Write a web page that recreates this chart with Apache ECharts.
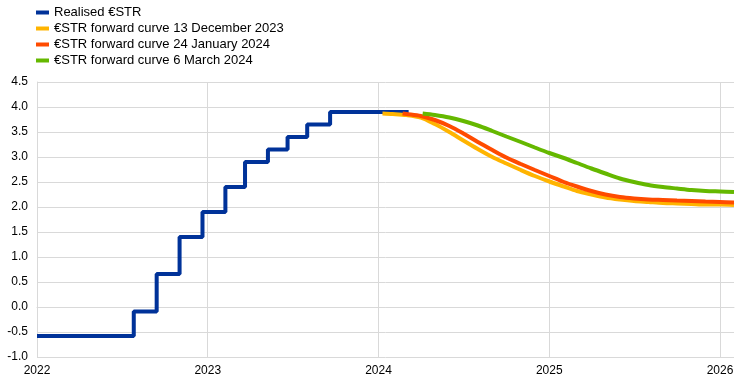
<!DOCTYPE html>
<html>
<head>
<meta charset="utf-8">
<script src="https://cdn.jsdelivr.net/npm/echarts@6/dist/echarts.min.js"></script>
<style>html,body{margin:0;padding:0;background:#fff;}#c{width:744px;height:383px;}</style>
</head>
<body>
<div id="c"></div>
<script>
// Realised €STR (step changes)
const realisedDates = ['2022-01-01','2022-07-27','2022-09-14','2022-11-02','2022-12-21','2023-02-08','2023-03-22','2023-05-10','2023-06-21','2023-08-02','2023-09-20','2024-03-06'];
const realisedValues = [-0.58,-0.09,0.66,1.40,1.90,2.40,2.90,3.15,3.40,3.65,3.90,3.90];

// €STR forward curve 13 December 2023
const dec13Dates = ['2024-01-10','2024-02-01','2024-03-01','2024-04-01','2024-05-01','2024-06-01','2024-07-01','2024-08-01','2024-09-01','2024-10-01','2024-11-01','2024-12-01','2025-01-01','2025-02-01','2025-03-01','2025-04-01','2025-05-01','2025-06-01','2025-07-01','2025-08-01','2025-09-01','2025-10-01','2025-11-01','2025-12-01','2026-01-01','2026-01-31'];
const dec13Values = [3.87,3.86,3.84,3.79,3.66,3.50,3.33,3.16,3.00,2.87,2.74,2.62,2.51,2.41,2.32,2.25,2.19,2.15,2.12,2.10,2.08,2.07,2.06,2.05,2.05,2.04];

// €STR forward curve 24 January 2024
const jan24Dates = ['2024-02-22','2024-03-01','2024-04-01','2024-05-01','2024-06-01','2024-07-01','2024-08-01','2024-09-01','2024-10-01','2024-11-01','2024-12-01','2025-01-01','2025-02-01','2025-03-01','2025-04-01','2025-05-01','2025-06-01','2025-07-01','2025-08-01','2025-09-01','2025-10-01','2025-11-01','2025-12-01','2026-01-01','2026-01-31'];
const jan24Values = [3.87,3.86,3.82,3.74,3.62,3.47,3.30,3.14,2.99,2.86,2.74,2.62,2.50,2.41,2.32,2.25,2.20,2.17,2.15,2.14,2.13,2.12,2.11,2.10,2.09];

// €STR forward curve 6 March 2024
const mar6Dates = ['2024-04-05','2024-05-01','2024-06-01','2024-07-01','2024-08-01','2024-09-01','2024-10-01','2024-11-01','2024-12-01','2025-01-01','2025-02-01','2025-03-01','2025-04-01','2025-05-01','2025-06-01','2025-07-01','2025-08-01','2025-09-01','2025-10-01','2025-11-01','2025-12-01','2026-01-01','2026-01-31'];
const mar6Values = [3.87,3.84,3.79,3.72,3.63,3.52,3.41,3.30,3.19,3.08,2.98,2.88,2.77,2.67,2.57,2.50,2.44,2.40,2.37,2.34,2.32,2.31,2.30];

const seriesNames = ['Realised €STR','€STR forward curve 13 December 2023','€STR forward curve 24 January 2024','€STR forward curve 6 March 2024'];
const seriesColors = ['#003299','#FFB400','#FF4B00','#65B800'];
const yTicks = ['-1.0','-0.5','0.0','0.5','1.0','1.5','2.0','2.5','3.0','3.5','4.0','4.5'];

const ts = d => new Date(d + 'T00:00:00Z').getTime();
const pairs = (ds, vs) => ds.map((d, i) => [ts(d), vs[i]]);
const YEAR = 365.25 * 86400000;

const chart = echarts.init(document.getElementById('c'), null, {renderer: 'canvas'});
const font = 'Liberation Sans, Arial, sans-serif';

const mk = (i, data, extra) => Object.assign({
  name: seriesNames[i], type: 'line', data: data, showSymbol: false, symbol: 'none',
  lineStyle: {width: 4, color: seriesColors[i]}, itemStyle: {color: seriesColors[i]},
  z: 2 + i, animation: false
}, extra || {});

chart.setOption({
  animation: false,
  textStyle: {fontFamily: font},
  legend: {
    orient: 'vertical', left: 36, top: 6, padding: 0, itemGap: 3,
    icon: 'rect', itemWidth: 13, itemHeight: 4, itemTextGap: 9,
    textStyle: {fontSize: 13, color: '#000', fontFamily: font, lineHeight: 12},
    data: seriesNames
  },
  grid: {left: 37, right: 10, top: 82, bottom: 26, containLabel: false},
  xAxis: {
    type: 'value', min: ts('2022-01-01'), max: ts('2026-01-31'), interval: YEAR,
    axisLine: {show: true, lineStyle: {color: '#d9d9d9', width: 1}},
    axisTick: {show: false},
    splitLine: {show: true, showMaxLine: false, lineStyle: {color: '#d9d9d9', width: 1}},
    axisLabel: {
      color: '#000', fontSize: 12, fontFamily: font, margin: 8, showMaxLabel: false, hideOverlap: false,
      formatter: v => String(new Date(v + 43200000).getUTCFullYear())
    }
  },
  yAxis: {
    type: 'value', min: -1, max: 4.5, interval: 0.5,
    axisLine: {show: true, lineStyle: {color: '#d9d9d9', width: 1}},
    axisTick: {show: false},
    splitLine: {show: true, lineStyle: {color: '#d9d9d9', width: 1}},
    axisLabel: {
      color: '#000', fontSize: 12, fontFamily: font, margin: 9,
      formatter: v => yTicks[Math.round((v + 1) / 0.5)]
    }
  },
  series: [
    mk(0, pairs(realisedDates, realisedValues), {step: 'end'}),
    mk(1, pairs(dec13Dates, dec13Values), {smooth: 0.3}),
    mk(2, pairs(jan24Dates, jan24Values), {smooth: 0.3}),
    mk(3, pairs(mar6Dates, mar6Values), {smooth: 0.3})
  ]
});
</script>
</body>
</html>
